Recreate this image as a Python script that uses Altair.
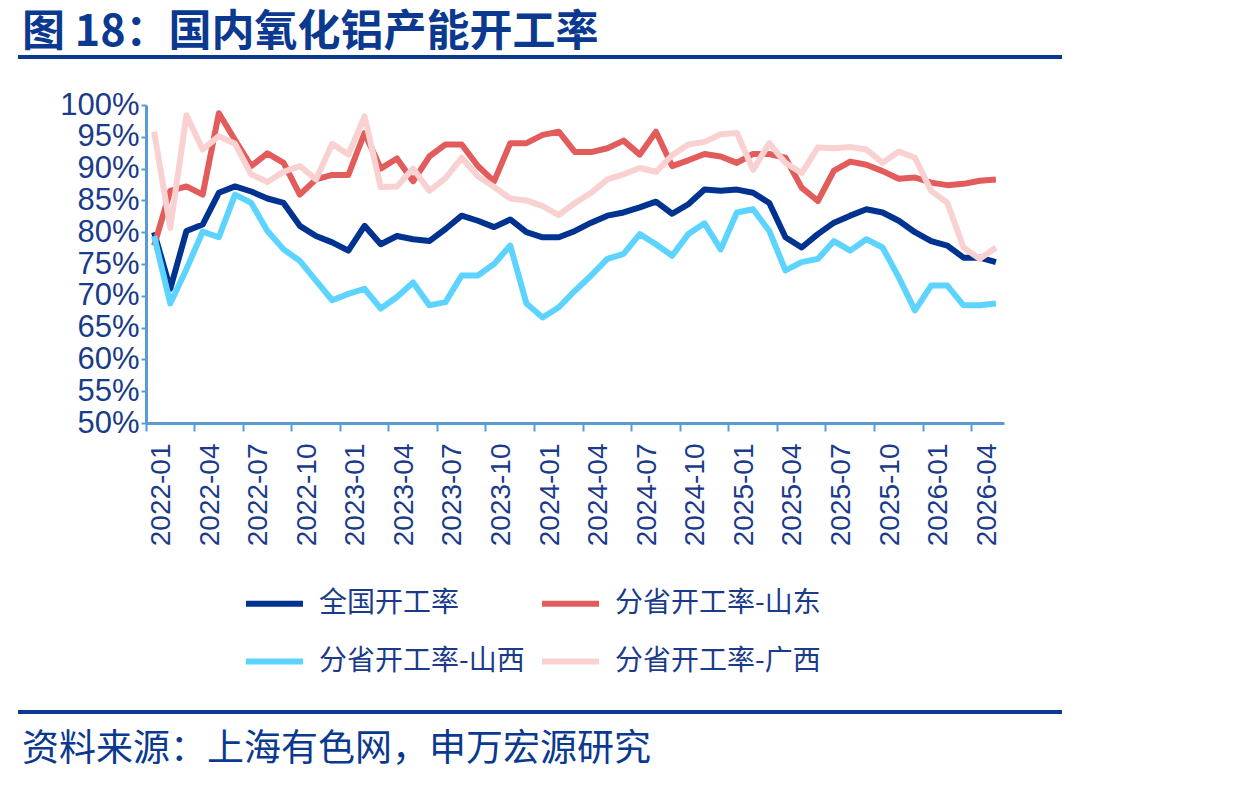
import altair as alt
import pandas as pd

# Monthly categories 2022-01 .. 2026-05
months = [f"{y}-{m:02d}" for y in range(2022, 2027) for m in range(1, 13)][:53]
tick_months = months[::3]

series_names = ["全国开工率", "分省开工率-山东", "分省开工率-山西", "分省开工率-广西"]
series_colors = ["#00338F", "#E25C5C", "#5CD4FF", "#F9D1D1"]

national = [80.0, 71.1, 80.2, 81.2, 86.2, 87.2, 86.4, 85.3, 84.6, 81.0,
            79.4, 78.4, 77.1, 81.0, 78.1, 79.4, 78.9, 78.6, 80.5, 82.6,
            81.8, 80.8, 82.0, 80.0, 79.2, 79.2, 80.2, 81.5, 82.6, 83.1,
            83.9, 84.8, 82.9, 84.4, 86.7, 86.5, 86.7, 86.2, 84.6, 79.2,
            77.6, 79.7, 81.5, 82.6, 83.6, 83.1, 81.8, 80.0, 78.6, 77.9,
            76.0, 76.0, 75.3]
shandong = [77.9, 86.5, 87.2, 85.9, 98.7, 94.5, 90.4, 92.4, 90.9, 85.9,
            88.3, 89.0, 89.0, 95.6, 90.0, 91.6, 88.0, 91.9, 93.8, 93.8,
            90.4, 88.0, 94.0, 94.0, 95.3, 95.8, 92.6, 92.6, 93.2, 94.4,
            92.2, 95.8, 90.4, 91.3, 92.3, 91.9, 90.9, 92.3, 92.3, 91.7,
            87.0, 84.9, 89.7, 91.1, 90.6, 89.6, 88.4, 88.6, 87.8, 87.4,
            87.6, 88.1, 88.3]
shanxi = [79.4, 68.8, 74.2, 80.1, 79.2, 85.9, 84.6, 80.2, 77.3, 75.5,
          72.4, 69.3, 70.3, 71.1, 68.0, 69.8, 72.1, 68.5, 69.0, 73.2,
          73.2, 75.0, 77.9, 68.8, 66.6, 68.2, 70.8, 73.2, 75.8, 76.6,
          79.7, 78.1, 76.3, 79.7, 81.4, 77.3, 83.1, 83.6, 80.2, 74.0,
          75.3, 75.8, 78.6, 77.1, 78.9, 77.6, 72.9, 67.7, 71.6, 71.6,
          68.5, 68.5, 68.8]
guangxi = [95.8, 80.7, 98.4, 93.0, 95.1, 93.9, 89.1, 87.9, 89.5, 90.4,
           88.3, 93.9, 92.2, 98.2, 87.1, 87.2, 90.0, 86.5, 88.5, 91.7,
           88.8, 87.1, 85.3, 85.0, 84.1, 82.7, 84.6, 86.2, 88.3, 89.1,
           90.1, 89.5, 92.1, 93.8, 94.2, 95.4, 95.6, 89.8, 94.0, 90.9,
           89.3, 93.3, 93.2, 93.4, 93.0, 90.9, 92.7, 91.7, 86.5, 84.6,
           77.6, 75.8, 77.6]

title_text = "图 18：国内氧化铝产能开工率"
source_text = "资料来源：上海有色网，申万宏源研究"

NAVY = "#0B3990"
LABEL = "#1A3A8A"
AXIS = "#5B9BD5"
CJK = "Noto Sans CJK SC"

rows = []
for k, (name, vals) in enumerate(zip(series_names, [national, shandong, shanxi, guangxi])):
    for m, v in zip(months, vals):
        rows.append({"month": m, "rate": v, "series": name, "k": k})
df = pd.DataFrame(rows)

lines = alt.Chart(df).mark_line(strokeWidth=6, strokeJoin="round").encode(
    x=alt.X(
        "month:O",
        title=None,
        scale=alt.Scale(type="band", paddingInner=0, paddingOuter=0),
        axis=alt.Axis(
            values=tick_months, labelAngle=-90, bandPosition=0, labelOffset=8,
            labelFont="Liberation Sans", labelFontSize=28, labelColor=LABEL,
            domainColor=AXIS, domainWidth=3, tickColor=AXIS, tickWidth=2,
            tickSize=8, labelPadding=12, grid=False, labelOverlap=False,
        ),
    ),
    y=alt.Y(
        "rate:Q",
        title=None,
        scale=alt.Scale(domain=[50, 100], nice=False, zero=False),
        axis=alt.Axis(
            values=list(range(50, 101, 5)), labelExpr="datum.value + '%'",
            labelFont="Liberation Sans", labelFontSize=31, labelColor=LABEL,
            domainColor=AXIS, domainWidth=3, tickColor=AXIS, tickWidth=2,
            tickSize=5, labelPadding=2, grid=False, labelOverlap=False,
            labelBound=False, labelFlush=False,
        ),
    ),
    color=alt.Color(
        "series:N",
        scale=alt.Scale(domain=series_names, range=series_colors),
        legend=alt.Legend(
            title=None, orient="none", legendX=97, legendY=467, columns=2,
            direction="horizontal",
            symbolType="stroke", symbolStrokeWidth=6, symbolSize=3249,
            labelFont=CJK, labelFontSize=28, labelColor=LABEL, labelOffset=13,
            labelLimit=0, columnPadding=5, rowPadding=12, symbolOpacity=1,
        ),
    ),
    detail="k:O",
)

one = alt.Data(values=[{}])

title = alt.Chart(one).mark_text(
    align="left", baseline="middle", font=CJK, fontSize=43, fontWeight="bold", color=NAVY
).encode(x=alt.value(-124), y=alt.value(-72), text=alt.value(title_text))

top_rule = alt.Chart(one).mark_rule(color=NAVY, strokeWidth=4).encode(
    x=alt.value(-128), x2=alt.value(916), y=alt.value(-48)
)

bottom_rule = alt.Chart(one).mark_rule(color=NAVY, strokeWidth=4).encode(
    x=alt.value(-128), x2=alt.value(916), y=alt.value(607)
)

source = alt.Chart(one).mark_text(
    align="left", baseline="middle", font=CJK, fontSize=37, color=NAVY
).encode(x=alt.value(-124), y=alt.value(645), text=alt.value(source_text))

chart = alt.layer(lines, title, top_rule, bottom_rule, source).properties(
    width=858,
    height=318,
    padding={"left": 146, "top": 105, "right": 230, "bottom": 364},
    autosize=alt.AutoSizeParams(type="none"),
    background="white",
).configure_view(stroke=None)

chart.save("out.html", embed_options={"renderer": "svg", "actions": False})
